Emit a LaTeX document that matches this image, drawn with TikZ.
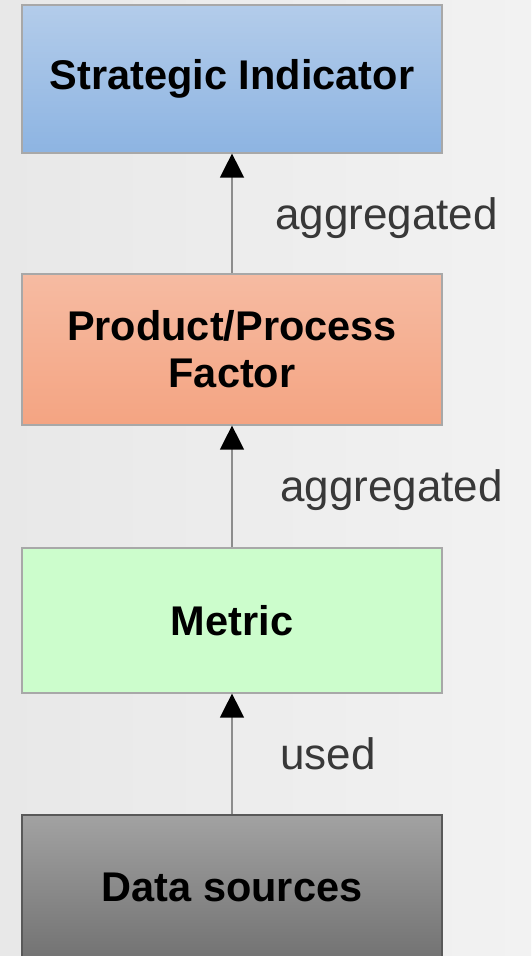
\documentclass[tikz,border=0pt]{standalone}
\usepackage{fontspec}
\setmainfont{Liberation Sans}
\usetikzlibrary{arrows.meta}
\definecolor{bgL}{HTML}{E8E8E8}
\definecolor{bgR}{HTML}{F2F2F2}
\definecolor{blueT}{HTML}{B3CCEA}
\definecolor{blueB}{HTML}{8DB4E2}
\definecolor{oraT}{HTML}{F6BBA2}
\definecolor{oraB}{HTML}{F4A482}
\definecolor{grnF}{HTML}{CCFDCC}
\definecolor{gryT}{HTML}{A2A2A2}
\definecolor{gryB}{HTML}{727272}
\definecolor{edgeC}{HTML}{A8A8A8}
\definecolor{lineC}{HTML}{8C8C8C}
\tikzset{
  levelbox/.style={rectangle, draw=edgeC, line width=1.2pt, minimum width=420pt,
    inner sep=0pt, align=center, font=\fontsize{41.5}{47}\selectfont\bfseries},
  relarrow/.style={draw=lineC, line width=1.4pt,
    -{Triangle[length=24pt,width=24pt,fill=black,color=black]}},
  rellabel/.style={anchor=west, inner sep=0pt, text=black!78,
    font=\fontsize{44}{50}\selectfont}
}
\begin{document}
\begin{tikzpicture}[x=1pt,y=-1pt]
\useasboundingbox (0,0) rectangle (531,956);
\shade[left color=bgL, right color=bgR] (0,0) rectangle (531,956);
\begin{scope}
\clip (0,0) rectangle (531,956);
\node[levelbox, minimum height=148pt, top color=blueT, bottom color=blueB] (si) at (232,79) {Strategic Indicator};
\node[levelbox, minimum height=151pt, top color=oraT, bottom color=oraB] (pf) at (232,349.5) {Product/Process\\Factor};
\node[levelbox, minimum height=145pt, fill=grnF] (me) at (232,620.5) {Metric};
\node[levelbox, minimum height=145pt, draw=gray!70!black, top color=gryT, bottom color=gryB] (ds) at (232,887.5) {Data sources};
\end{scope}
\draw[relarrow] (pf.north) -- (si.south);
\draw[relarrow] (me.north) -- (pf.south);
\draw[relarrow] (ds.north) -- (me.south);
\node[rellabel] (l1) at (275,218) {aggregated};
\node[rellabel] (l2) at (280,490) {aggregated};
\node[rellabel] (l3) at (280,754) {used};
\end{tikzpicture}
\end{document}
